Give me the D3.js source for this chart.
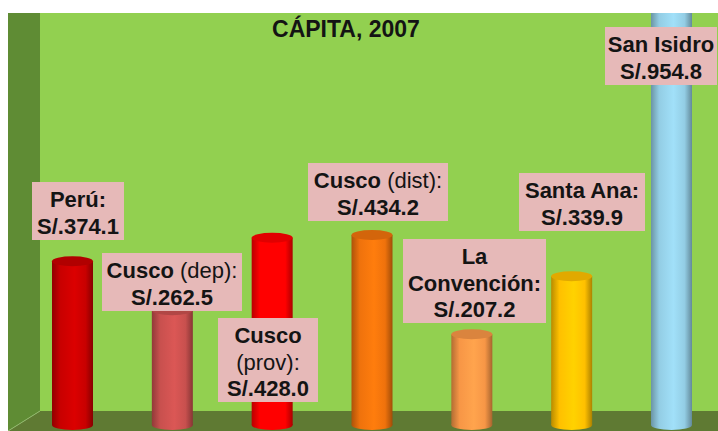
<!DOCTYPE html>
<html>
<head>
<meta charset="utf-8">
<script src="https://cdn.jsdelivr.net/npm/d3@7"></script>
<style>
  body { margin: 0; background: #fff; }
  svg { display: block; font-family: "Liberation Sans", Arial, sans-serif; }
</style>
</head>
<body>
<svg id="chart"></svg>
<script>
// data
var categories = ["Perú", "Cusco (dep)", "Cusco (prov)", "Cusco (dist)", "La Convención", "Santa Ana", "San Isidro"];
var values = [374.1, 262.5, 428.0, 434.2, 207.2, 339.9, 954.8];
var barColors = ["#c80000", "#c8504e", "#ff0000", "#ef720c", "#f79646", "#ffc000", "#93cde4"];
// label lines: [bold part, normal part]
var labelLines = [
  [["Perú:", ""], ["S/.374.1", ""]],
  [["Cusco", " (dep):"], ["S/.262.5", ""]],
  [["Cusco", ""], ["", "(prov):"], ["S/.428.0", ""]],
  [["Cusco", " (dist):"], ["S/.434.2", ""]],
  [["La", ""], ["Convención:", ""], ["S/.207.2", ""]],
  [["Santa Ana:", ""], ["S/.339.9", ""]],
  [["San Isidro", ""], ["S/.954.8", ""]]
];
var title = "CÁPITA, 2007";

// layout
var width = 718, height = 431;
var plotTop = 13, wallLeft = 8, wallRight = 40, floorBack = 411;
var barW = 41, capRy = 5;
// label box placement (center x, top y, width)
var labelBoxes = [
  {cx: 78, y: 182, w: 92},
  {cx: 172, y: 253, w: 140},
  {cx: 268, y: 318, w: 100},
  {cx: 378, y: 163, w: 140},
  {cx: 474.5, y: 239, w: 143},
  {cx: 582, y: 173, w: 126},
  {cx: 661, y: 27, w: 112}
];

var svg = d3.select("#chart").attr("width", width).attr("height", height);

var defs = svg.append("defs");
defs.append("clipPath").attr("id", "plotclip")
  .append("rect").attr("x", 0).attr("y", plotTop).attr("width", width).attr("height", height - plotTop);

var g = svg.append("g").attr("clip-path", "url(#plotclip)");

// back wall
g.append("rect").attr("x", wallRight).attr("y", plotTop)
  .attr("width", width - wallRight).attr("height", floorBack - plotTop)
  .attr("fill", "#92d050");
// left wall
g.append("polygon")
  .attr("points", [[wallLeft, plotTop], [wallRight, plotTop], [wallRight, floorBack], [wallLeft, height]].join(" "))
  .attr("fill", "#5f8c34");
// floor
g.append("polygon")
  .attr("points", [[wallRight, floorBack], [width, floorBack], [width, height], [wallLeft, height]].join(" "))
  .attr("fill", "#5f7a33");
g.append("line").attr("x1", wallLeft).attr("y1", height).attr("x2", wallRight).attr("y2", floorBack)
  .attr("stroke", "#8fb86a").attr("stroke-width", 1);

// scales
var x = d3.scalePoint().domain(categories).range([72.5, 671.5]);
var y = d3.scaleLinear().domain([0, 1000]).range([425, 425 - 437.6]);

// gradients for the cylinders
barColors.forEach(function(c, i) {
  var grad = defs.append("linearGradient").attr("id", "cyl" + i)
    .attr("x1", "0%").attr("x2", "100%").attr("y1", "0%").attr("y2", "0%");
  var base = d3.color(c);
  grad.append("stop").attr("offset", "0%").attr("stop-color", base.darker(0.9));
  grad.append("stop").attr("offset", "20%").attr("stop-color", base);
  grad.append("stop").attr("offset", "55%").attr("stop-color", base.brighter(0.25));
  grad.append("stop").attr("offset", "82%").attr("stop-color", base);
  grad.append("stop").attr("offset", "100%").attr("stop-color", base.darker(1.1));
});

var bars = g.append("g").selectAll("g.bar")
  .data(values).enter()
  .append("g").attr("class", "bar");

// bottom ellipse
bars.append("ellipse")
  .attr("cx", function(d, i) { return x(categories[i]); })
  .attr("cy", y(0))
  .attr("rx", barW / 2).attr("ry", capRy)
  .attr("fill", function(d, i) { return "url(#cyl" + i + ")"; });
// body
bars.append("rect")
  .attr("x", function(d, i) { return x(categories[i]) - barW / 2; })
  .attr("y", function(d) { return y(d); })
  .attr("width", barW)
  .attr("height", function(d) { return y(0) - y(d); })
  .attr("fill", function(d, i) { return "url(#cyl" + i + ")"; });
// top cap
bars.append("ellipse")
  .attr("cx", function(d, i) { return x(categories[i]); })
  .attr("cy", function(d) { return y(d); })
  .attr("rx", barW / 2).attr("ry", capRy)
  .attr("fill", function(d, i) { return d3.color(barColors[i]).darker(0.35); });

// title
g.append("text")
  .attr("x", 346).attr("y", 37)
  .attr("text-anchor", "middle")
  .style("font-size", "23px").style("font-weight", "bold")
  .attr("fill", "#141414")
  .text(title);

// labels
var labels = g.append("g").selectAll("g.label")
  .data(labelLines).enter()
  .append("g").attr("class", "label");

labels.append("rect")
  .attr("x", function(d, i) { return labelBoxes[i].cx - labelBoxes[i].w / 2; })
  .attr("y", function(d, i) { return labelBoxes[i].y; })
  .attr("width", function(d, i) { return labelBoxes[i].w; })
  .attr("height", function(d) { return d.length * 26 + 6; })
  .attr("fill", "#e6b9b8");

labels.each(function(lines, i) {
  var box = labelBoxes[i];
  var t = d3.select(this).append("text")
    .attr("text-anchor", "middle")
    .style("font-size", "22px")
    .attr("fill", "#141414");
  lines.forEach(function(line, j) {
    var row = t.append("tspan").attr("x", box.cx).attr("y", box.y + 25 + j * 26.5);
    if (line[0]) row.append("tspan").style("font-weight", "bold").text(line[0]);
    if (line[1]) row.append("tspan").style("font-weight", "normal").text(line[1]);
  });
});
</script>
</body>
</html>
